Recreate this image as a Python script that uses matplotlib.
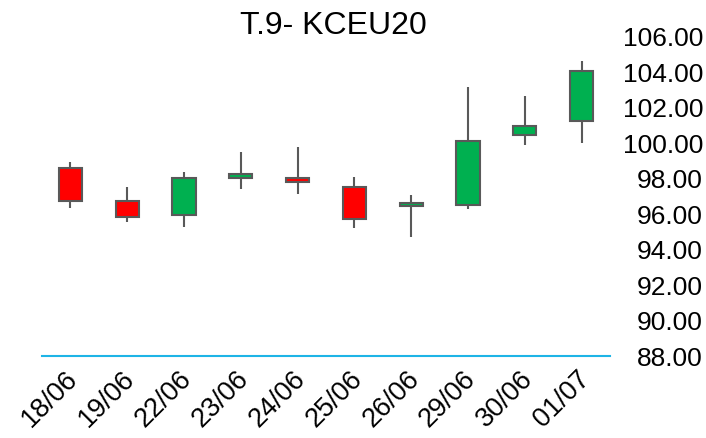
import matplotlib.pyplot as plt
import matplotlib.transforms as mtransforms
import numpy as np

plt.rcParams['font.family'] = ['Liberation Sans', 'DejaVu Sans']

dates = ['18/06', '19/06', '22/06', '23/06', '24/06', '25/06', '26/06', '29/06', '30/06', '01/07']
open_ = [98.63, 96.76, 95.94, 98.03, 98.06, 97.55, 96.45, 96.52, 100.49, 101.28]
high = [98.93, 97.52, 98.40, 99.50, 99.81, 98.12, 97.10, 103.16, 102.69, 104.65]
low = [96.35, 95.58, 95.26, 97.44, 97.14, 95.21, 94.70, 96.28, 99.92, 100.04]
close = [96.73, 95.86, 98.03, 98.27, 97.80, 95.73, 96.65, 100.15, 101.00, 104.08]

fig = plt.figure(figsize=(7.06, 4.38), dpi=100)
ax = fig.add_axes([42 / 706, 1 - 356 / 438, 568 / 706, (356 - 37) / 438])

x = np.arange(len(dates))
o = np.array(open_)
c = np.array(close)
colors = ['#00B050' if cc >= oo else '#FF0000' for oo, cc in zip(o, c)]

# wicks first, bodies on top
ax.vlines(x, low, high, color='#595959', linewidth=1.5, zorder=1)
ax.bar(x, np.abs(c - o), bottom=np.minimum(o, c), width=0.41, color=colors,
       edgecolor='#595959', linewidth=1.5, zorder=2)

ax.set_xlim(-0.5, len(dates) - 0.5)
ax.set_ylim(88, 106)
ax.set_yticks(np.arange(88, 107, 2))
ax.set_yticklabels([f'{v:.2f}' for v in np.arange(88, 107, 2)])
ax.yaxis.tick_right()
ax.tick_params(axis='y', length=0, pad=67, labelsize=19)
for lbl in ax.get_yticklabels():
    lbl.set_horizontalalignment('right')

ax.set_xticks(x)
ax.set_xticklabels(dates, rotation=45, ha='right', va='center', rotation_mode='anchor', fontsize=19.5)
ax.tick_params(axis='x', length=0, pad=14)
shift = mtransforms.ScaledTranslation(4 / 100, 0, fig.dpi_scale_trans)
for lbl in ax.get_xticklabels():
    lbl.set_transform(lbl.get_transform() + shift)

for side in ['top', 'left', 'right']:
    ax.spines[side].set_visible(False)
ax.spines['bottom'].set_color('#1EB4E6')
ax.spines['bottom'].set_linewidth(1.5)

fig.text(333 / 706, 1 - 26 / 438, 'T.9- KCEU20', ha='center', va='center', fontsize=23)

fig.savefig('out.png', dpi=100)
